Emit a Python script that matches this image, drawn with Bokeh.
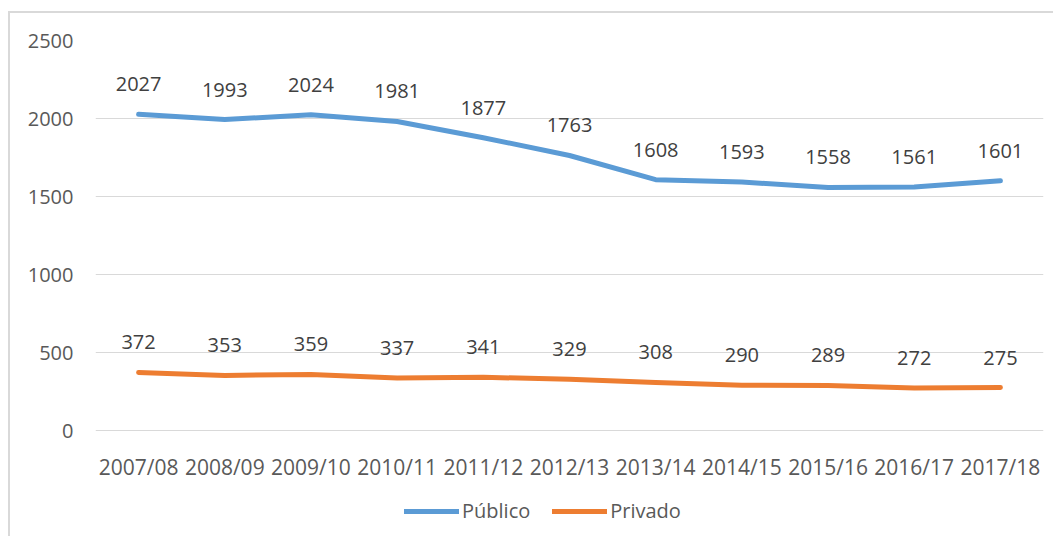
from bokeh.plotting import figure
from bokeh.models import ColumnDataSource, FixedTicker, Legend, LegendItem, Range1d
from bokeh.core.properties import value
from bokeh.embed import file_html
from bokeh.resources import INLINE

years = ["2007/08", "2008/09", "2009/10", "2010/11", "2011/12", "2012/13",
         "2013/14", "2014/15", "2015/16", "2016/17", "2017/18"]
publico = [2027, 1993, 2024, 1981, 1877, 1763, 1608, 1593, 1558, 1561, 1601]
privado = [372, 353, 359, 337, 341, 329, 308, 290, 289, 272, 275]
y_ticks = [0, 500, 1000, 1500, 2000, 2500]

FONT = "Open Sans"
BLUE = "#5B9BD5"
ORANGE = "#ED7D31"

# frame extends below the value axis to host the x labels and the legend
PLOT_H = 390      # pixel height of the 0..2500 value area
FRAME_H = 495     # full frame height
y_top = y_ticks[-1]
y_bottom = -y_top * (FRAME_H - PLOT_H) / PLOT_H

src = ColumnDataSource(dict(
    x=years, pub=publico, priv=privado,
    pub_t=[str(v) for v in publico], priv_t=[str(v) for v in privado]))

p = figure(x_range=years, y_range=Range1d(y_bottom, y_top), width=1045, height=525,
           output_backend="svg", toolbar_location=None,
           min_border_left=85, min_border_right=12, min_border_top=27,
           min_border_bottom=525 - 27 - FRAME_H)
p.margin = (13, 0, 0, 10)
p.styles = {"box-shadow": "-2px -2px 0 0 #d9d9d9"}
p.outline_line_color = None
p.background_fill_color = "white"
p.border_fill_color = "white"

r1 = p.line("x", "pub", source=src, line_color=BLUE, line_width=5, line_cap="round", line_join="round")
r2 = p.line("x", "priv", source=src, line_color=ORANGE, line_width=5, line_cap="round", line_join="round")

for col in ["pub", "priv"]:
    p.text("x", col, text=col + "_t", source=src, y_offset=-30,
           text_align="center", text_baseline="middle",
           text_font=value(FONT), text_font_size="20px", text_color="#404040")

p.xgrid.grid_line_color = None
p.ygrid.grid_line_color = "#d9d9d9"
p.ygrid.grid_line_width = 1
p.yaxis.ticker = FixedTicker(ticks=y_ticks)
p.xaxis.fixed_location = 0

for ax in (p.xaxis[0], p.yaxis[0]):
    ax.axis_line_color = None
    ax.major_tick_line_color = None
    ax.minor_tick_line_color = None
    ax.major_label_text_font = FONT
    ax.major_label_text_color = "#595959"
p.xaxis.major_label_text_font_size = "21px"
p.yaxis.major_label_text_font_size = "20px"
p.xaxis.major_label_standoff = 16
p.yaxis.major_label_standoff = 16

legend = Legend(items=[LegendItem(label="Público", renderers=[r1]),
                       LegendItem(label="Privado", renderers=[r2])],
                orientation="horizontal", location=(309, 11),
                glyph_width=55, glyph_height=20, label_height=20,
                label_standoff=3, spacing=22, padding=0, margin=0,
                border_line_color=None, background_fill_alpha=0,
                label_text_font=FONT, label_text_font_size="20px",
                label_text_color="#595959")
p.add_layout(legend, "center")

open("out.html", "w").write(file_html(p, INLINE))
